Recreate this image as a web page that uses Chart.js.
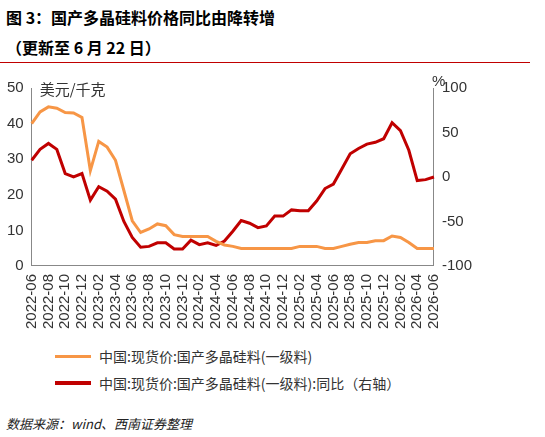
<!DOCTYPE html>
<html><head><meta charset="utf-8">
<script src="https://cdn.jsdelivr.net/npm/chart.js@4"></script>
<style>
body{margin:0;width:545px;height:437px;background:#fff;font-family:"Noto Sans CJK SC",sans-serif;position:relative;overflow:hidden}
.t{position:absolute;left:6px;font-weight:bold;font-size:16px;color:#000}
#wrap{position:absolute;left:0;top:66px;width:545px;height:266px}
.rule{position:absolute;left:0;top:62px;width:530px;height:1px;background:#c00000}
.lg{position:absolute;left:55px;font-size:14px;color:#333;display:flex;align-items:center}
.lg i{display:inline-block;width:36px;height:3px;margin-right:8px}
.src{position:absolute;left:6px;top:414px;font-size:13px;font-style:italic;color:#222}
</style></head><body>
<div class="t" style="top:5px">图 3：国产多晶硅料价格同比由降转增</div>
<div class="t" style="top:35px">（更新至 6 月 22 日）</div>
<div class="rule"></div>
<div id="wrap"><canvas id="c"></canvas></div>
<div class="lg" style="top:346px"><i style="background:#f79646"></i>中国:现货价:国产多晶硅料(一级料)</div>
<div class="lg" style="top:373px"><i style="background:#c00000;height:4px"></i>中国:现货价:国产多晶硅料(一级料):同比（右轴）</div>
<div class="src">数据来源：wind、西南证券整理</div>
<script>
const months = [];
for (let i = 0; i < 49; i++) {
  const y = 2022 + Math.floor((5 + i) / 12), m = (5 + i) % 12 + 1;
  months.push(y + '-' + String(m).padStart(2, '0'));
}
const price = [40,43.3,44.7,44.3,43.1,43,41.7,26.8,35,33.4,29.7,21.2,12.7,9.4,10.4,11.8,11.3,8.8,8.3,8.3,8.3,8.3,6.9,5.9,5.5,4.9,4.9,4.9,4.9,4.9,4.9,4.9,5.5,5.5,5.5,4.9,4.9,5.5,6.1,6.6,6.6,7.1,7.1,8.4,8.0,6.6,4.9,4.9,4.9];
const yoy = [18.8,31,37.7,31,3.8,0,3.8,-26,-11,-16,-25,-50,-68,-79,-78,-74,-74,-81,-81,-71,-76,-74,-77,-72,-61,-49,-52,-57,-55,-44,-44,-37,-38,-38,-27,-13,-8,9,26,32,37,39,43,61,52,30,-4,-3,0];

const tickFont = { family: 'Liberation Sans', size: 15 };
new Chart(document.getElementById('c'), {
  type: 'line',
  data: {
    labels: months,
    datasets: [
      { data: price, yAxisID: 'y', borderColor: '#f79646', borderWidth: 3, pointRadius: 0, tension: 0 },
      { data: yoy, yAxisID: 'y1', borderColor: '#c00000', borderWidth: 3, pointRadius: 0, tension: 0 }
    ]
  },
  options: {
    responsive: true, maintainAspectRatio: false, animation: false,
    layout: { padding: { left: 4, right: 70, top: 22, bottom: 0 } },
    plugins: { legend: { display: false }, tooltip: { enabled: false } },
    scales: {
      x: {
        offset: false,
        grid: { display: false, drawTicks: true, tickLength: 5, color: '#888' },
        border: { color: '#888' },
        ticks: { autoSkip: false, maxRotation: 90, minRotation: 90, color: '#333', font: tickFont,
          callback: (v, i) => i % 2 === 0 ? months[i] : '' }
      },
      y: {
        min: 0, max: 50, position: 'left',
        grid: { display: false, drawTicks: true, tickLength: 5 },
        border: { color: '#888' },
        ticks: { stepSize: 10, color: '#333', font: tickFont }
      },
      y1: {
        min: -100, max: 100, position: 'right',
        grid: { display: false, drawTicks: true, tickLength: 5 },
        border: { color: '#888' },
        ticks: { stepSize: 50, color: '#333', font: tickFont }
      }
    }
  },
  plugins: [{
    id: 'units',
    afterDraw(ch) {
      const g = ch.ctx, a = ch.chartArea;
      g.save();
      g.fillStyle = '#333';
      g.font = '15px "Noto Sans CJK SC"';
      g.textBaseline = 'top';
      g.fillText('美元/千克', a.left + 8, a.top - 6);
      g.font = '15px "Liberation Sans"';
      g.fillText('%', a.right - 2, a.top - 14);
      g.restore();
    }
  }]
});
</script>
</body></html>
